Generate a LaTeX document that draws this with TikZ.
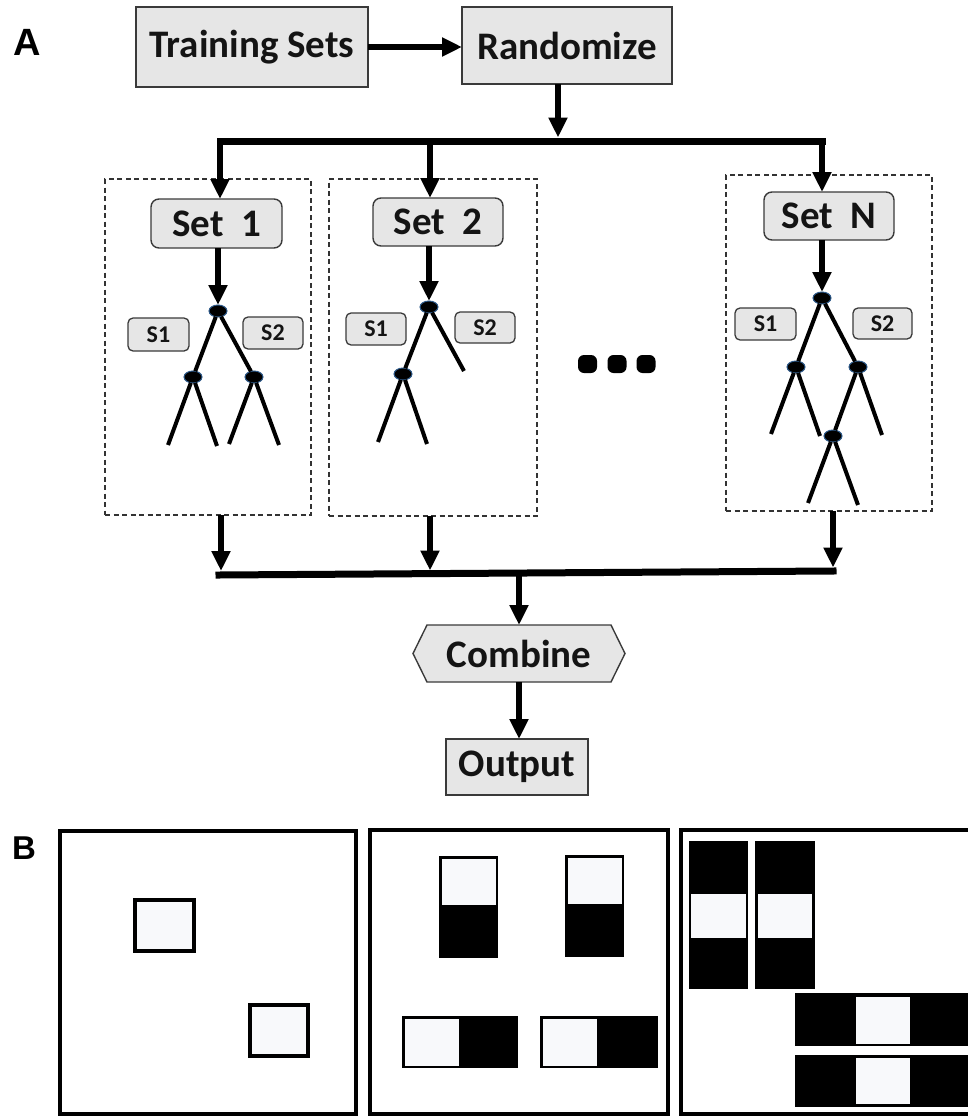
\documentclass[tikz,border=0pt]{standalone}
\usepackage{fontspec}
\setmainfont{Carlito}
\newfontfamily\lblfont{Liberation Sans}
\usetikzlibrary{arrows.meta,shapes.geometric}

\definecolor{boxfill}{HTML}{E6E6E6}
\definecolor{boxline}{HTML}{3A3A3A}
\definecolor{knotedge}{HTML}{2E5A8A}
\definecolor{cellwhite}{HTML}{F8F9FB}

\begin{document}
\begin{tikzpicture}[x=1pt,y=-1pt,
  every node/.style={inner sep=0pt, outer sep=0pt},
  bigfont/.style={font=\bfseries\fontsize{39}{42}\selectfont, text=black!92},
  bigbox/.style={draw=boxline, line width=1.4pt, fill=boxfill, bigfont},
  setbox/.style={bigbox, rounded corners=8pt},
  sbox/.style={draw=boxline, line width=1.3pt, fill=boxfill, rounded corners=5pt,
    font=\bfseries\fontsize{24}{27}\selectfont, text=black!92},
  group/.style={draw=black!80, dash pattern=on 5pt off 3.5pt, line width=1.3pt},
  flow/.style={line width=5.8pt, -{Triangle[length=20pt,width=18pt]}},
  bar/.style={line width=7pt, line cap=rect},
  knot/.style={ellipse, minimum width=18pt, minimum height=12pt, fill=black,
    draw=knotedge, line width=1pt},
  branch/.style={line width=4pt},
  dotbox/.style={rectangle, minimum width=19pt, minimum height=18pt, fill=black,
    rounded corners=6pt},
  panelframe/.style={line width=3.2pt},
  cellbox/.style={line width=3.2pt, fill=cellwhite},
  lbl/.style={font=\lblfont\bfseries\fontsize{38}{40}\selectfont}
]
\useasboundingbox (0,0) rectangle (968,1116);

% ---------- panel A: pipeline ----------
\node[lbl] (labA) at (27,42) {A};

\node[bigbox, minimum width=232pt, minimum height=80pt] (ts) at (252,47) {Training Sets};
\node[bigbox, minimum width=210pt, minimum height=77pt] (rnd) at (567,45.5) {Randomize};
\draw[flow] (ts.east) -- (ts.east -| rnd.west);

% distribution bar
\coordinate (tbL) at (220,141);
\coordinate (tbM) at (430,141);
\coordinate (tbR) at (822,141);
\coordinate (tbJ) at (558,137.5);
\draw[bar] (tbL) -- (tbR);
\draw[flow] (rnd.south -| tbJ) -- (tbJ);

% dashed groups
\node[group, minimum width=206pt, minimum height=336pt] (grp1) at (208,347) {};
\node[group, minimum width=208pt, minimum height=337pt] (grp2) at (433,347.5) {};
\node[group, minimum width=206pt, minimum height=336pt] (grpN) at (829,343) {};

% set boxes
\node[setbox, minimum width=131pt, minimum height=49pt] (set1) at (216.5,223.5) {Set\hspace{0.45em}1};
\node[setbox, minimum width=130pt, minimum height=48pt] (set2) at (438,222) {Set\hspace{0.45em}2};
\node[setbox, minimum width=130pt, minimum height=48pt] (setN) at (829,216) {Set\hspace{0.45em}N};

\draw[flow] (tbL) -- (tbL |- set1.north);
\draw[flow] (tbM) -- (tbM |- set2.north);
\draw[flow] (tbR) -- (tbR |- setN.north);

% split labels
\node[sbox, minimum width=61pt, minimum height=33pt] (s1a) at (158.5,334.5) {S1};
\node[sbox, minimum width=60pt, minimum height=32pt] (s2a) at (273,333) {S2};
\node[sbox, minimum width=60pt, minimum height=32pt] (s1b) at (376,329) {S1};
\node[sbox, minimum width=60pt, minimum height=31pt] (s2b) at (485,327.5) {S2};
\node[sbox, minimum width=61pt, minimum height=32pt] (s1n) at (765.5,324) {S1};
\node[sbox, minimum width=59pt, minimum height=31pt] (s2n) at (882.5,323.5) {S2};

% tree 1
\node[knot] (r1) at (218,311) {};
\node[knot] (a1) at (193,377) {};
\node[knot] (b1) at (254,377) {};
\coordinate (l1a) at (168,445);
\coordinate (l1b) at (217,446);
\coordinate (l1c) at (229,444);
\coordinate (l1d) at (279,445);
\draw[branch] (r1) -- (a1) (r1) -- (b1)
  (a1) -- (l1a) (a1) -- (l1b) (b1) -- (l1c) (b1) -- (l1d);
\draw[flow] (set1.south -| r1) -- (r1.north);

% tree 2
\node[knot] (r2) at (429,307) {};
\node[knot] (a2) at (403,374) {};
\coordinate (l2r) at (464,371);
\coordinate (l2a) at (378,442);
\coordinate (l2b) at (427,444);
\draw[branch] (r2) -- (a2) (r2) -- (l2r) (a2) -- (l2a) (a2) -- (l2b);
\draw[flow] (set2.south -| r2) -- (r2.north);

% tree N
\node[knot] (rN) at (822,298) {};
\node[knot] (aN) at (796,367) {};
\node[knot] (bN) at (858,367) {};
\node[knot] (cN) at (833,436) {};
\coordinate (lNa) at (771,434);
\coordinate (lNb) at (820,436);
\coordinate (lNd) at (882,435);
\coordinate (lNe) at (808,503);
\coordinate (lNf) at (858,505);
\draw[branch] (rN) -- (aN) (rN) -- (bN) (aN) -- (lNa) (aN) -- (lNb)
  (bN) -- (cN) (bN) -- (lNd) (cN) -- (lNe) (cN) -- (lNf);
\draw[flow] (setN.south -| rN) -- (rN.north);

% ellipsis between groups
\node[dotbox] (d1) at (587.5,364) {};
\node[dotbox] (d2) at (617,364) {};
\node[dotbox] (d3) at (646,364) {};

% collecting bar
\coordinate (bbL) at (219,575);
\coordinate (bbR) at (833,571);
\coordinate (bt1) at (221,571);
\coordinate (bt2) at (430,570.5);
\coordinate (btN) at (833,567.5);
\coordinate (bbM) at (519,573);
\draw[bar] (bbL) -- (bbR);
\draw[flow] (grp1.south -| bt1) -- (bt1);
\draw[flow] (grp2.south -| bt2) -- (bt2);
\draw[flow] (grpN.south -| btN) -- (btN);

% combine and output
\node[minimum width=212pt, minimum height=57pt] (comb) at (519,653.5) {};
\draw[draw=boxline, line width=1.4pt, fill=boxfill]
  (comb.west) -- ([xshift=14pt]comb.north west) -- ([xshift=-14pt]comb.north east)
  -- (comb.east) -- ([xshift=-14pt]comb.south east) -- ([xshift=14pt]comb.south west) -- cycle;
\node[bigfont] (combtxt) at (comb.center) {Combine};
\draw[flow] (bbM) -- (comb.north);

\node[bigbox, minimum width=142pt, minimum height=56pt] (out) at (517,767) {Output};
\draw[flow] (comb.south) -- (comb.south |- out.north);

% ---------- panel B: feature patterns ----------
\node[lbl, font=\lblfont\bfseries\fontsize{33}{36}\selectfont] (labB) at (24,848.5) {B};

% frame 1
\draw[panelframe] (60,831) rectangle (356,1114);
\draw[cellbox] (135,900) rectangle (194,951);
\draw[cellbox] (250,1005) rectangle (308,1056);

% frame 2
\draw[panelframe] (370,830) rectangle (668,1114);
\fill (439,856) rectangle (498,958);
\fill[cellwhite] (441.5,858.5) rectangle (495.5,905);
\fill (565,855) rectangle (624,957);
\fill[cellwhite] (567.5,857.5) rectangle (621.5,904);
\fill (402,1016) rectangle (518,1068);
\fill[cellwhite] (404.5,1018.5) rectangle (459,1065.5);
\fill (540,1016) rectangle (658,1068);
\fill[cellwhite] (542.5,1018.5) rectangle (597,1065.5);

% frame 3
\draw[panelframe] (975,830) -- (681,830) -- (681,1114) -- (975,1114);
\fill (689,841) rectangle (748,989);
\fill[cellwhite] (691,894) rectangle (746,938);
\fill (755,841) rectangle (815,989);
\fill[cellwhite] (758,894) rectangle (812,938);
\fill (795,993) rectangle (975,1046);
\fill[cellwhite] (856,997) rectangle (910,1044);
\fill (795,1055) rectangle (975,1107);
\fill[cellwhite] (856,1058) rectangle (910,1104);
\end{tikzpicture}
\end{document}
